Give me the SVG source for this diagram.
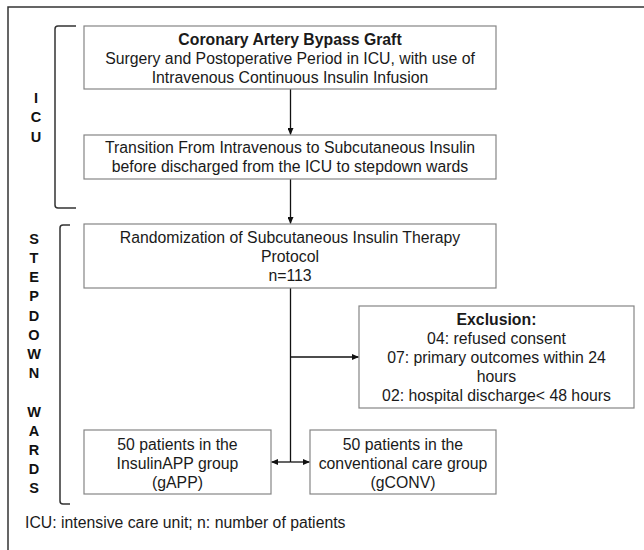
<svg xmlns="http://www.w3.org/2000/svg" width="644" height="550" viewBox="0 0 644 550">
<defs>
<marker id="arr" markerWidth="7" markerHeight="6" refX="6.5" refY="3" orient="auto" markerUnits="userSpaceOnUse">
<path d="M0,0 L7,3 L0,6 Z" fill="#111"/>
</marker>
<style>
text{font-family:"Liberation Sans",Arial,sans-serif;font-size:15.8px;fill:#1a1a1a;text-anchor:middle}
.b{font-weight:bold}
.side{font-weight:bold;font-size:14.5px;fill:#111}
.box{fill:#fff;stroke:#858585;stroke-width:1.2}
.con{stroke:#111;stroke-width:1.3;fill:none}
.brk{stroke:#333;stroke-width:1.5;fill:none}
.note{text-anchor:start}
</style>
</defs>
<rect x="0" y="0" width="644" height="550" fill="#fff"/>
<rect x="8" y="7" width="660" height="560" fill="none" stroke="#333" stroke-width="1.5"/>

<g id="icu-label">
<path class="brk" d="M76,26 H58 Q55,26 55,29 V205 Q55,208 58,208 H76"/>
<text class="side" x="36" y="103">I</text>
<text class="side" x="36" y="122">C</text>
<text class="side" x="36" y="142">U</text>
</g>

<g id="stepdown-label">
<path class="brk" d="M70,225 H63 Q60,225 60,228 V501 Q60,504 63,504 H70"/>
<text class="side" x="34" y="244">S</text>
<text class="side" x="34" y="263">T</text>
<text class="side" x="34" y="282">E</text>
<text class="side" x="34" y="301">P</text>
<text class="side" x="34" y="321">D</text>
<text class="side" x="34" y="340">O</text>
<text class="side" x="34" y="359">W</text>
<text class="side" x="34" y="378">N</text>
<text class="side" x="34" y="417">W</text>
<text class="side" x="34" y="436">A</text>
<text class="side" x="34" y="455">R</text>
<text class="side" x="34" y="474">D</text>
<text class="side" x="34" y="493">S</text>
</g>

<g id="connectors">
<line class="con" x1="290.5" y1="89" x2="290.5" y2="134.5" marker-end="url(#arr)"/>
<line class="con" x1="290.5" y1="179" x2="290.5" y2="223.5" marker-end="url(#arr)"/>
<line class="con" x1="290.5" y1="288" x2="290.5" y2="462"/>
<line class="con" x1="290.5" y1="357" x2="358.5" y2="357" marker-end="url(#arr)"/>
<line class="con" x1="290.5" y1="462" x2="309.5" y2="462" marker-end="url(#arr)"/>
<line class="con" x1="290.5" y1="462" x2="271.5" y2="462" marker-end="url(#arr)"/>
</g>

<g id="cabg">
<rect class="box" x="84" y="26" width="412" height="63"/>
<text class="b" x="290" y="45">Coronary Artery Bypass Graft</text>
<text x="290" y="64">Surgery and Postoperative Period in ICU, with use of</text>
<text x="290" y="83">Intravenous Continuous Insulin Infusion</text>
</g>

<g id="transition">
<rect class="box" x="84" y="135" width="412" height="44"/>
<text x="290" y="153">Transition From Intravenous to Subcutaneous Insulin</text>
<text x="290" y="172">before discharged from the ICU to stepdown wards</text>
</g>

<g id="randomization">
<rect class="box" x="84" y="224" width="412" height="64"/>
<text x="290" y="243">Randomization of Subcutaneous Insulin Therapy</text>
<text x="290" y="262">Protocol</text>
<text x="290" y="281">n=113</text>
</g>

<g id="exclusion">
<rect class="box" x="359" y="306" width="275" height="102"/>
<text class="b" x="496.5" y="325">Exclusion:</text>
<text x="496.5" y="344">04: refused consent</text>
<text x="496.5" y="363">07: primary outcomes within 24</text>
<text x="496.5" y="382">hours</text>
<text x="496.5" y="401">02: hospital discharge&lt; 48 hours</text>
</g>

<g id="gapp">
<rect class="box" x="84" y="430" width="187" height="64"/>
<text x="177.5" y="450">50 patients in the</text>
<text x="177.5" y="469">InsulinAPP group</text>
<text x="177.5" y="488">(gAPP)</text>
</g>

<g id="gconv">
<rect class="box" x="310" y="430" width="186" height="64"/>
<text x="403" y="450">50 patients in the</text>
<text x="403" y="469">conventional care  group</text>
<text x="403" y="488">(gCONV)</text>
</g>

<text class="note" x="25" y="528">ICU: intensive care unit; n: number of patients</text>
</svg>
